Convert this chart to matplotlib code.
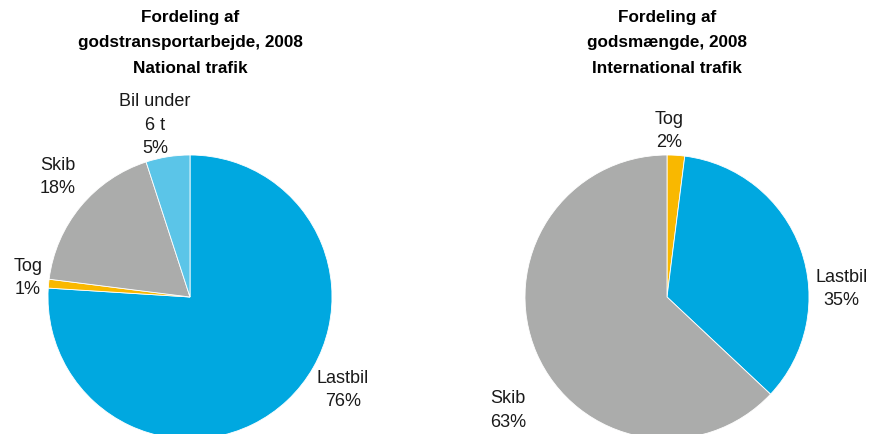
import numpy as np
import matplotlib
matplotlib.use("Agg")
import matplotlib.pyplot as plt

plt.rcParams['font.family'] = ['Liberation Sans', 'DejaVu Sans']

# National trafik (godstransportarbejde)
nat_labels = ["Lastbil", "Tog", "Skib", "Bil under\n6 t"]
nat_values = [76, 1, 18, 5]
nat_colors = ["#00A8E0", "#F9B800", "#ABACAB", "#5BC5E8"]

# International trafik (godsmængde)
int_labels = ["Tog", "Lastbil", "Skib"]
int_values = [2, 35, 63]
int_colors = ["#F9B800", "#00A8E0", "#ABACAB"]

titles = ["Fordeling af\ngodstransportarbejde, 2008\nNational trafik",
          "Fordeling af\ngodsmængde, 2008\nInternational trafik"]

# label positions (x, y) in pie radius units
nat_pos = [(1.077, -0.655), (-1.14, 0.134), (-0.93, 0.845), (-0.246, 1.21)]
int_pos = [(0.014, 1.17), (1.23, 0.056), (-1.12, -0.80)]

W, H = 874, 434
R = 142
fig = plt.figure(figsize=(W / 100, H / 100), dpi=100)

def draw(cx, cy, values, labels, colors, pos, title):
    ax = fig.add_axes([(cx - R) / W, (H - cy - R) / H, 2 * R / W, 2 * R / H])
    ax.pie(values, colors=colors, startangle=90, counterclock=False, radius=1,
           wedgeprops=dict(edgecolor="white", linewidth=0.6))
    ax.set_xlim(-1, 1)
    ax.set_ylim(-1, 1)
    ax.set_aspect("equal")
    ax.axis("off")
    for lab, v, (x, y) in zip(labels, values, pos):
        ax.text(x, y, "%s\n%d%%" % (lab, v), ha="center", va="center",
                fontsize=13, linespacing=1.5, color="#1a1a1a", clip_on=False)
    fig.text(cx / W, 1 - 43 / H, title, ha="center", va="center",
             fontsize=12.3, fontweight="bold", linespacing=1.85)

draw(190, 297, nat_values, nat_labels, nat_colors, nat_pos, titles[0])
draw(667, 297, int_values, int_labels, int_colors, int_pos, titles[1])

fig.savefig("out.png", dpi=100)
